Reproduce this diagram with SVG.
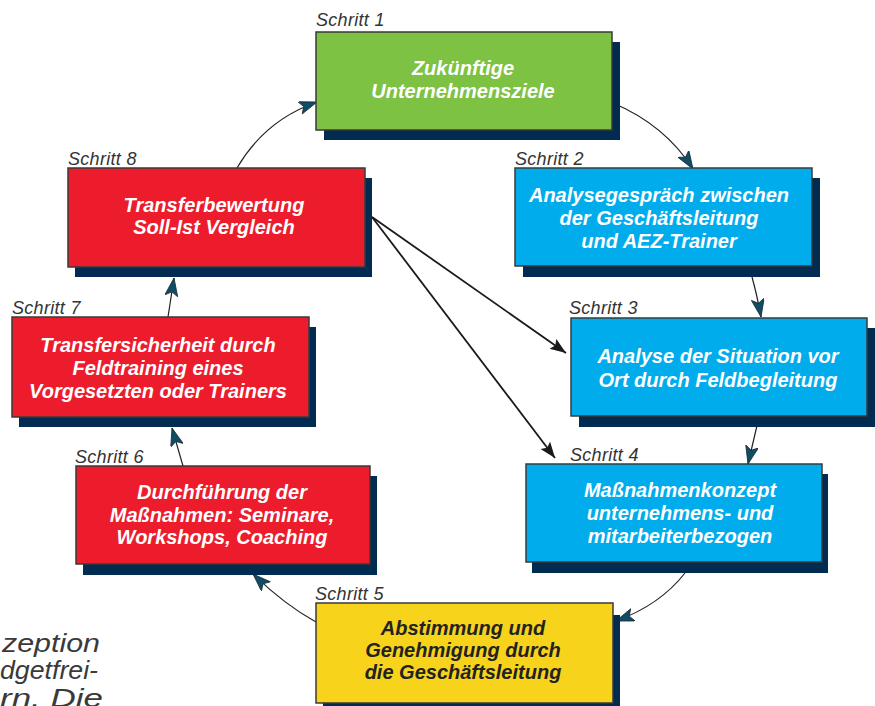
<svg xmlns="http://www.w3.org/2000/svg" width="875" height="706" viewBox="0 0 875 706">
<defs>
<style>
.sh{fill:#022b52}
.bx{stroke:#3a3a3a;stroke-width:1.5}
.g{fill:#7dc242}.b{fill:#00acec}.r{fill:#ec1c2d}.y{fill:#f8d31c}
.t{font-family:"Liberation Sans",Arial,sans-serif;font-size:20px;font-weight:bold;font-style:italic;fill:#fff;text-anchor:middle}
.td{fill:#222}
.s{font-family:"Liberation Sans",Arial,sans-serif;font-size:18px;font-style:italic;fill:#333;letter-spacing:0.3px}
.c{fill:none;stroke:#222;stroke-width:1.2}
.k{fill:none;stroke:#1a1a1a;stroke-width:1.8}
.bt{font-family:"Liberation Sans",Arial,sans-serif;font-size:25px;font-style:italic;fill:#3a3a3a}
</style>
<marker id="ta" markerUnits="userSpaceOnUse" markerWidth="20" markerHeight="14" refX="18" refY="6.5" orient="auto" viewBox="0 0 20 14">
<path d="M0,0 L18,6.5 L0,13 L4,6.5 Z" fill="#0e4d64" stroke="#1c2c36" stroke-width="0.8"/>
</marker>
<marker id="ka" markerUnits="userSpaceOnUse" markerWidth="18" markerHeight="14" refX="16" refY="6" orient="auto" viewBox="0 0 18 14">
<path d="M0,0 L16,6 L0,12 L3,6 Z" fill="#1a1a1a"/>
</marker>
</defs>
<rect width="875" height="706" fill="#fff"/>

<g id="bodytext">
<text class="bt" x="2" y="652" textLength="98" lengthAdjust="spacingAndGlyphs">zeption</text>
<text class="bt" x="0" y="679" textLength="98" lengthAdjust="spacingAndGlyphs">dgetfrei-</text>
<text class="bt" x="0" y="707" textLength="103" lengthAdjust="spacingAndGlyphs">rn. Die</text>
</g>

<g id="connectors">
<path class="c" d="M237,168 Q265,120 317,102" marker-end="url(#ta)"/>
<path class="c" d="M613,103 Q665,125 693,169" marker-end="url(#ta)"/>
<path class="c" d="M752,277 Q757,295 761,317" marker-end="url(#ta)"/>
<path class="c" d="M759,417 L748,464" marker-end="url(#ta)"/>
<path class="c" d="M685,573 Q660,605 616,621" marker-end="url(#ta)"/>
<path class="c" d="M316,622 Q285,605 253,574" marker-end="url(#ta)"/>
<path class="c" d="M183,466 L172,428" marker-end="url(#ta)"/>
<path class="c" d="M168,317 L174,278" marker-end="url(#ta)"/>
<path class="k" d="M372,217 L566,353" marker-end="url(#ka)"/>
<path class="k" d="M372,217 L555,458" marker-end="url(#ka)"/>
</g>

<g id="step1">
<rect class="sh" x="324" y="42" width="296" height="98"/>
<rect class="bx g" x="316" y="32" width="296" height="98"/>
<text class="s" x="316" y="26">Schritt 1</text>
<text class="t" x="463" y="75">Zukünftige</text>
<text class="t" x="463" y="98">Unternehmensziele</text>
</g>

<g id="step2">
<rect class="sh" x="523" y="178" width="297" height="99"/>
<rect class="bx b" x="515" y="168" width="297" height="98"/>
<text class="s" x="515" y="165">Schritt 2</text>
<text class="t" x="659" y="202">Analysegespräch zwischen</text>
<text class="t" x="659" y="225">der Geschäftsleitung</text>
<text class="t" x="659" y="248">und AEZ-Trainer</text>
</g>

<g id="step3">
<rect class="sh" x="579" y="328" width="296" height="99"/>
<rect class="bx b" x="571" y="318" width="296" height="98"/>
<text class="s" x="569" y="314">Schritt 3</text>
<text class="t" x="718" y="363">Analyse der Situation vor</text>
<text class="t" x="718" y="387">Ort durch Feldbegleitung</text>
</g>

<g id="step4">
<rect class="sh" x="532" y="474" width="296" height="99"/>
<rect class="bx b" x="526" y="464" width="296" height="98"/>
<text class="s" x="570" y="461">Schritt 4</text>
<text class="t" x="680" y="497">Maßnahmenkonzept</text>
<text class="t" x="680" y="520">unternehmens- und</text>
<text class="t" x="680" y="543">mitarbeiterbezogen</text>
</g>

<g id="step5">
<rect class="sh" x="323" y="615" width="297" height="100"/>
<rect class="bx y" x="316" y="603" width="297" height="100"/>
<text class="s" x="315" y="600">Schritt 5</text>
<text class="t td" x="463" y="635">Abstimmung und</text>
<text class="t td" x="463" y="657">Genehmigung durch</text>
<text class="t td" x="463" y="679">die Geschäftsleitung</text>
</g>

<g id="step6">
<rect class="sh" x="83" y="476" width="294" height="99"/>
<rect class="bx r" x="76" y="466" width="294" height="98"/>
<text class="s" x="75" y="463">Schritt 6</text>
<text class="t" x="222" y="499">Durchführung der</text>
<text class="t" x="222" y="522">Maßnahmen: Seminare,</text>
<text class="t" x="222" y="544">Workshops, Coaching</text>
</g>

<g id="step7">
<rect class="sh" x="19" y="327" width="297" height="100"/>
<rect class="bx r" x="12" y="317" width="297" height="100"/>
<text class="s" x="12" y="314">Schritt 7</text>
<text class="t" x="158" y="352">Transfersicherheit durch</text>
<text class="t" x="158" y="375">Feldtraining eines</text>
<text class="t" x="158" y="398">Vorgesetzten oder Trainers</text>
</g>

<g id="step8">
<rect class="sh" x="75" y="178" width="297" height="99"/>
<rect class="bx r" x="68" y="168" width="297" height="99"/>
<text class="s" x="68" y="165">Schritt 8</text>
<text class="t" x="214" y="212">Transferbewertung</text>
<text class="t" x="214" y="234">Soll-Ist Vergleich</text>
</g>
</svg>
